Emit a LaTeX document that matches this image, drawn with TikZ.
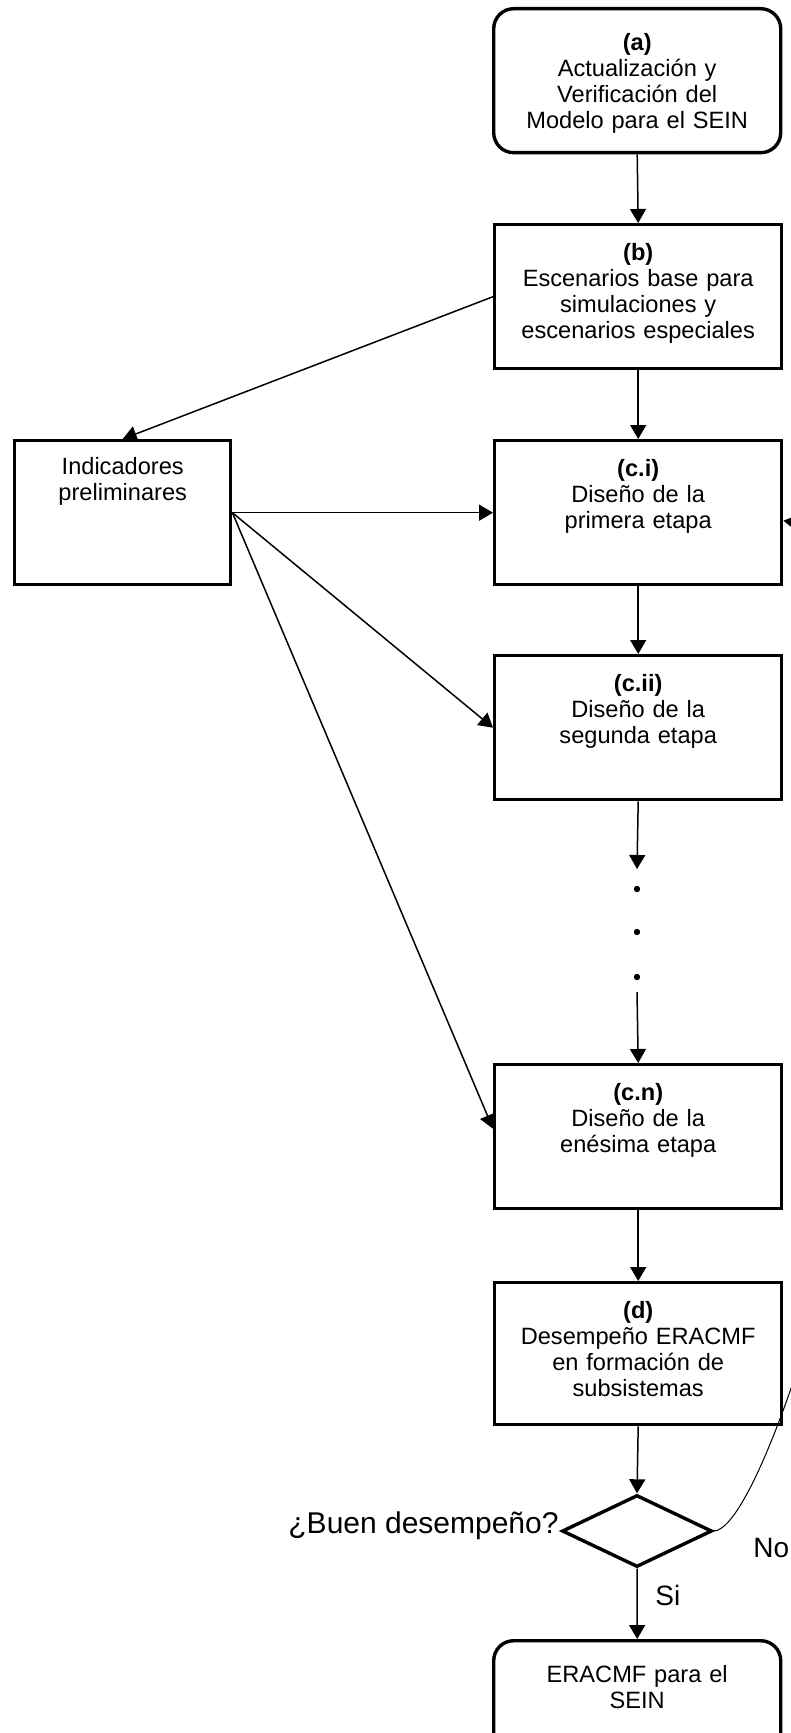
\documentclass[tikz,border=0pt]{standalone}
\usepackage{fontspec}
\setmainfont{Liberation Sans}
\usetikzlibrary{calc,shapes.geometric,arrows.meta}

\begin{document}
\begin{tikzpicture}[
  x=0.5pt, y=-0.5pt,
  stepbox/.style={
    rectangle, draw, line width=1.7pt,
    minimum width=143.5pt,
    inner xsep=4pt, inner ysep=9pt, text width=135pt,
    text height=9pt, text depth=45pt,
    align=center, anchor=north west,
    font=\fontsize{11.8}{13}\selectfont,
  },
  endbox/.style={stepbox, rounded corners=10pt, inner ysep=12pt, text depth=39pt},
  indbox/.style={stepbox, minimum width=107pt, text width=100pt, inner ysep=8pt, text depth=47pt},
  decision/.style={diamond, draw, line width=1.7pt, minimum width=75pt, minimum height=36pt, inner sep=0pt},
  tag/.style={inner sep=0pt, font=\fontsize{14}{16}\selectfont},
  flow/.style={line width=0.75pt, -{Triangle[length=7pt,width=8pt]}},
]

\clip (0,0) rectangle (791,1733);
\fill[white] (0,0) rectangle (791,1733);

\node[endbox] (a) at (492,7) {\textbf{(a)}\\Actualización y\\Verificación del\\Modelo para el SEIN};
\node[stepbox] (b) at (493,223) {\textbf{(b)}\\Escenarios base para\\simulaciones y\\escenarios especiales};
\node[indbox] (ind) at (13,439) {Indicadores\\preliminares};
\node[stepbox] (ci) at (493,439) {\textbf{(c.i)}\\Diseño de la\\primera etapa};
\node[stepbox] (cii) at (493,654) {\textbf{(c.ii)}\\Diseño de la\\segunda etapa};
\node[stepbox] (cn) at (493,1063) {\textbf{(c.n)}\\Diseño de la\\enésima etapa};
\node[stepbox, text depth=44pt] (d) at (493,1281) {\textbf{(d)}\\Desempeño ERACMF\\en formación de\\subsistemas};
\node[decision] (dec) at (637,1531) {};
\node[endbox] (fin) at (492,1639) {ERACMF para el\\SEIN};

\node[tag, anchor=base east, font=\fontsize{15}{17}\selectfont] (quest) at (559,1533) {¿Buen desempeño?};
\node[tag, anchor=base west] (no) at (753,1557) {No};
\node[tag, anchor=base west] (si) at (655,1605) {Si};

% dots between the stages
\coordinate (dtop) at (637,869);
\coordinate (dbot) at (637,992);
\foreach \y in {889,932,977}
  \fill (637,\y) circle (1.6pt);

\draw[flow] (a.south) -- (b.north);
\draw[flow] (b.south) -- (ci.north);
\draw[flow] (b.west) -- (ind.north);
\draw[flow] (ci.south) -- (cii.north);
\draw[flow] (cii.south) -- (dtop);
\draw[flow] (dbot) -- (cn.north);
\draw[flow] (cn.south) -- (d.north);
\draw[flow] (d.south) -- (dec.north);
\draw[flow] (dec.south) -- (fin.north);

\draw[flow] (ind.east) -- (ci.west);
\draw[flow] (ind.east) -- (cii.west);
\draw[flow] (ind.east) -- ($(cn.west)+(0,-8)$);

\draw[flow, line width=0.5pt] (dec.east) .. controls (790,1530) and (1050,560) .. ($(ci.east)+(0,8)$);

\end{tikzpicture}
\end{document}
